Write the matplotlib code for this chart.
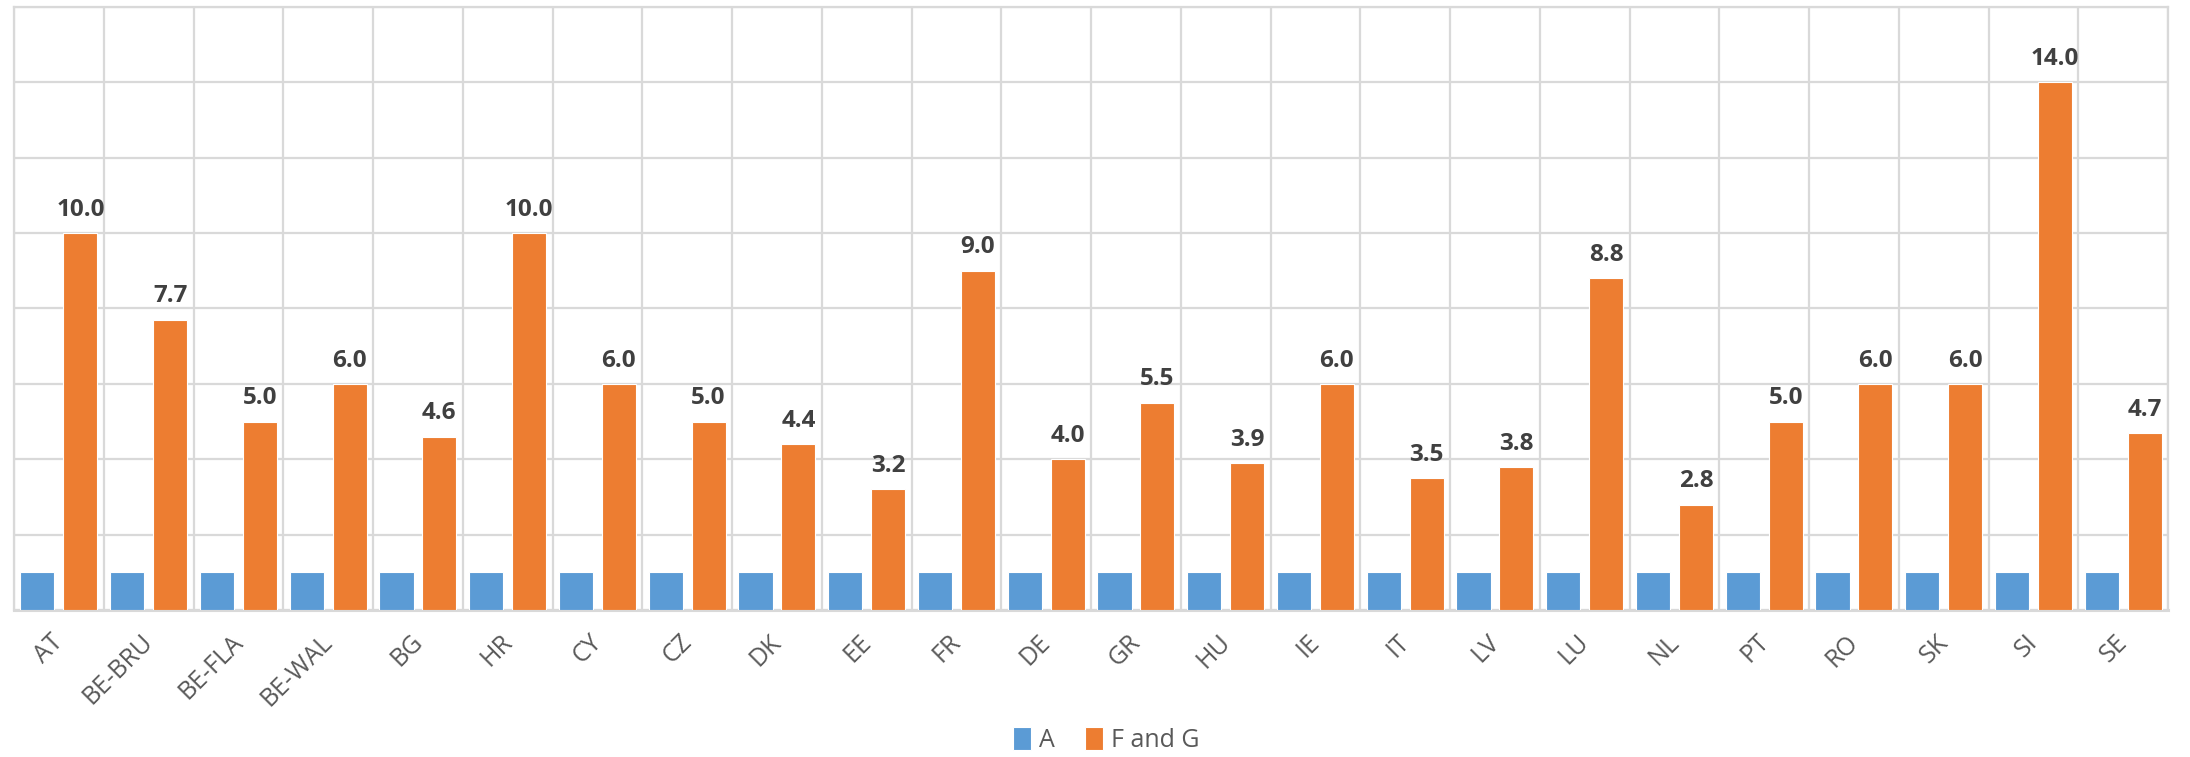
import matplotlib
matplotlib.use("Agg")
import matplotlib.pyplot as plt
import matplotlib.transforms as mtransforms
import numpy as np
from matplotlib.ticker import MultipleLocator, FixedLocator

categories = ["AT", "BE-BRU", "BE-FLA", "BE-WAL", "BG", "HR", "CY", "CZ", "DK", "EE",
              "FR", "DE", "GR", "HU", "IE", "IT", "LV", "LU", "NL", "PT", "RO", "SK",
              "SI", "SE"]
series_a = [1.0] * 24
series_fg = [10.0, 7.7, 5.0, 6.0, 4.6, 10.0, 6.0, 5.0, 4.4, 3.2, 9.0, 4.0, 5.5, 3.9,
             6.0, 3.5, 3.8, 8.8, 2.8, 5.0, 6.0, 6.0, 14.0, 4.7]
legend_labels = ["A", "F and G"]

plt.rcParams['font.family'] = ['Open Sans', 'DejaVu Sans']

fig = plt.figure(figsize=(21.9, 7.57), dpi=100)
ax = fig.add_axes([0.0064, 0.194, 0.9836, 0.797])

x = np.arange(len(categories))
w = 0.38
off = 0.239
grid_c = "#D9D9D9"
b1 = ax.bar(x - off, series_a, w, color="#5B9BD5", edgecolor="white", linewidth=0.8,
            label=legend_labels[0], zorder=3)
b2 = ax.bar(x + off, series_fg, w, color="#ED7D31", edgecolor="white", linewidth=0.8,
            label=legend_labels[1], zorder=3)

for xi, v in zip(x, series_fg):
    ax.text(xi + off, v + 0.3, f"{v:.1f}", ha="center", va="bottom",
            fontsize=17.5, fontweight="bold", color="#404040", zorder=4)

ax.set_xlim(-0.5, len(categories) - 0.5)
ax.set_ylim(0, 16)
ax.yaxis.set_major_locator(MultipleLocator(2))
ax.set_yticklabels([])
ax.tick_params(axis="y", length=0)
ax.set_xticks(x)
ax.set_xticklabels(categories, rotation=45, ha="right", rotation_mode="anchor",
                   fontsize=18, color="#595959")
ax.tick_params(axis="x", length=0, pad=14)
shift = mtransforms.ScaledTranslation(-8 / 100, 0, fig.dpi_scale_trans)
for lbl in ax.get_xticklabels():
    lbl.set_transform(lbl.get_transform() + shift)
ax.xaxis.set_minor_locator(FixedLocator(np.arange(-0.5, len(categories), 1.0)))
ax.grid(True, which="minor", axis="x", color=grid_c, linewidth=1.6, zorder=0)
ax.grid(True, which="major", axis="y", color=grid_c, linewidth=1.6, zorder=0)
ax.tick_params(axis="x", which="minor", length=0)
for s in ax.spines.values():
    s.set_color(grid_c)
    s.set_linewidth(1.6)
ax.spines["bottom"].set_linewidth(2.2)

fig.legend(handles=[b1, b2], labels=legend_labels, loc="center",
           bbox_to_anchor=(0.505, 0.022), ncol=2, frameon=False, fontsize=18,
           handlelength=0.75, handleheight=1.0, handletextpad=0.3, columnspacing=1.2,
           labelcolor="#595959")

fig.savefig("out.png", dpi=100)
